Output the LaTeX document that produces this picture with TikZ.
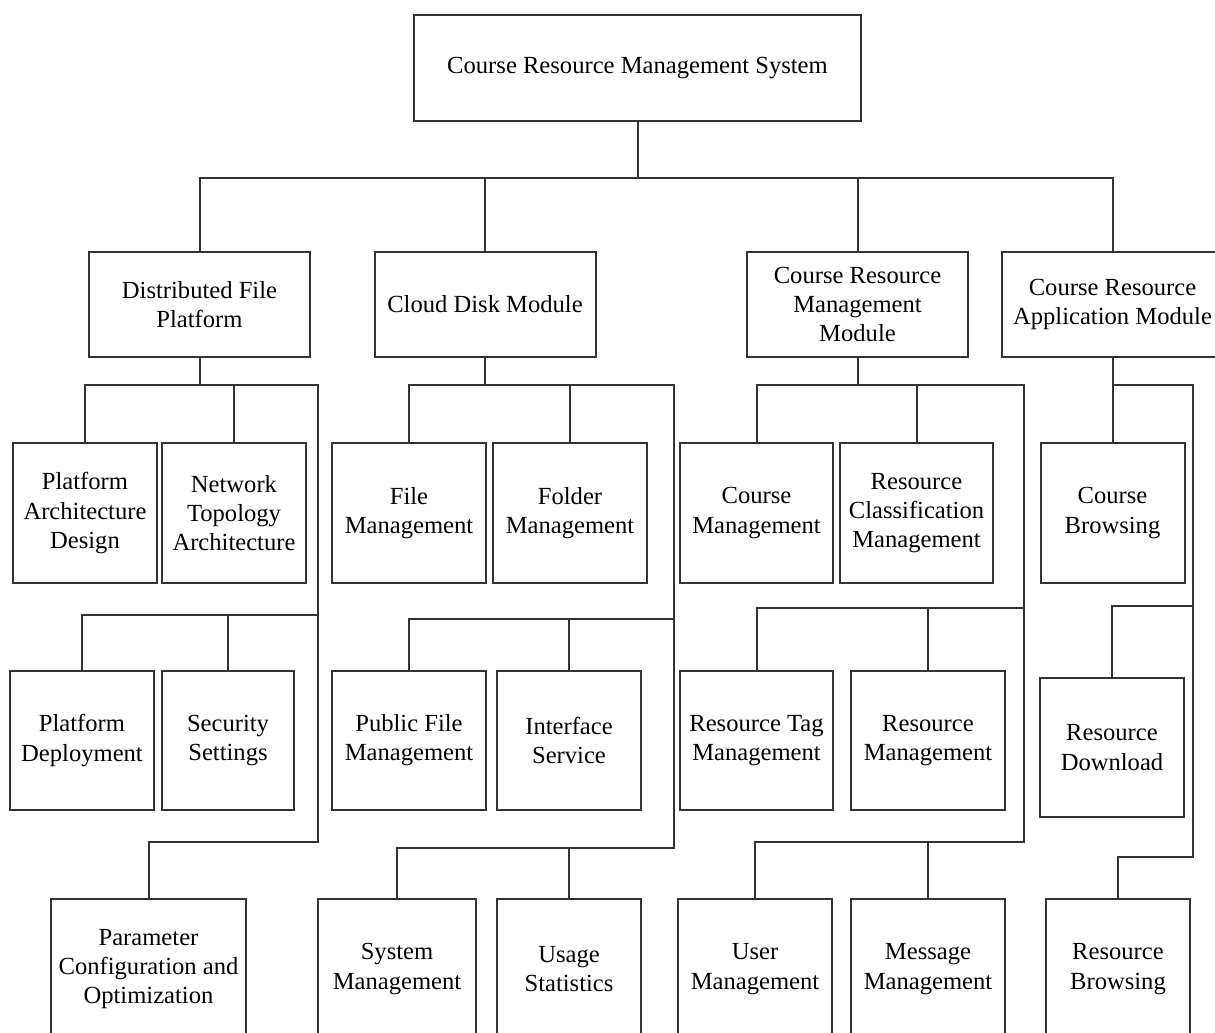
\documentclass[tikz,border=0pt]{standalone}
\usepackage{fontspec}
\setmainfont{Liberation Serif}

\tikzset{
  boxstyle/.style={draw=black!80, line width=1pt, align=center, inner sep=0pt,
    font=\fontsize{12.3}{14.6}\selectfont},
  modbox/.style={boxstyle, minimum width=110.5pt, minimum height=52.5pt},
  leafbox/.style={boxstyle, minimum height=70pt},
  link/.style={draw=black!80, line width=1pt}
}

\begin{document}
\begin{tikzpicture}[x=0.5pt, y=-0.5pt]
    \useasboundingbox (0,0) rectangle (1215,1033);
    \clip (0,0) rectangle (1215,1033);

    % root
    \node[boxstyle, minimum width=223.5pt, minimum height=53pt] (root) at (637.5,68) {Course Resource Management System};

    % modules
    \node[modbox] (dfp) at (199.5,304.5) {Distributed File\\Platform};
    \node[modbox] (cdm) at (485,304.5) {Cloud Disk Module};
    \node[modbox] (crmm) at (857.5,304.5) {Course Resource\\Management\\Module};
    \node[modbox] (cram) at (1112.5,304.5) {Course Resource\\Application Module};

    % second row
    \node[leafbox, minimum width=72pt] (pad) at (85,513) {Platform\\Architecture\\Design};
    \node[leafbox, minimum width=72pt] (nta) at (234,513) {Network\\Topology\\Architecture};
    \node[leafbox, minimum width=77pt] (fm) at (409,513) {File\\Management};
    \node[leafbox, minimum width=77pt] (fom) at (570,513) {Folder\\Management};
    \node[leafbox, minimum width=76.5pt] (cm) at (756.5,513) {Course\\Management};
    \node[leafbox, minimum width=76.5pt] (rcm) at (916.5,513) {Resource\\Classification\\Management};
    \node[leafbox, minimum width=72pt] (cb) at (1112.5,513) {Course\\Browsing};

    % third row
    \node[leafbox, minimum width=72pt, minimum height=69.5pt] (pd) at (82,740.5) {Platform\\Deployment};
    \node[leafbox, minimum width=66pt, minimum height=69.5pt] (ss) at (228,740.5) {Security\\Settings};
    \node[leafbox, minimum width=77pt, minimum height=69.5pt] (pfm) at (409,740.5) {Public File\\Management};
    \node[leafbox, minimum width=72pt, minimum height=69.5pt] (is) at (569,740.5) {Interface\\Service};
    \node[leafbox, minimum width=76.5pt, minimum height=69.5pt] (rtm) at (756.5,740.5) {Resource Tag\\Management};
    \node[leafbox, minimum width=77pt, minimum height=69.5pt] (rm) at (928,740.5) {Resource\\Management};
    \node[leafbox, minimum width=72pt, minimum height=69.5pt] (rd) at (1112,747.5) {Resource\\Download};

    % fourth row
    \node[leafbox, minimum width=97.5pt] (pco) at (148.5,969) {Parameter\\Configuration and\\Optimization};
    \node[leafbox, minimum width=79pt] (sm) at (397,969) {System\\Management};
    \node[leafbox, minimum width=72pt] (us) at (569,969) {Usage\\Statistics};
    \node[leafbox, minimum width=77pt] (um) at (755,969) {User\\Management};
    \node[leafbox, minimum width=77pt] (mm) at (928,969) {Message\\Management};
    \node[leafbox, minimum width=72pt] (rb) at (1118,969) {Resource\\Browsing};

    % bus lines
    \coordinate (bus) at (0,178);
    \coordinate (dfpA) at (318,385);
    \coordinate (dfpB) at (318,615);
    \coordinate (dfpC) at (318,842);
    \coordinate (cdmA) at (674,385);
    \coordinate (cdmB) at (674,619);
    \coordinate (cdmC) at (674,848);
    \coordinate (crmmA) at (1024,385);
    \coordinate (crmmB) at (1024,608);
    \coordinate (crmmC) at (1024,842);
    \coordinate (cramA) at (1193,385);
    \coordinate (cramB) at (1193,606);
    \coordinate (cramC) at (1193,857);

    % root to modules
    \draw[link] (root.south) -- (root.south |- bus);
    \draw[link] (dfp.north) |- (cram.north |- bus) -- (cram.north);
    \draw[link] (cdm.north) -- (cdm.north |- bus);
    \draw[link] (crmm.north) -- (crmm.north |- bus);

    % distributed file platform
    \draw[link] (dfp.south) -- (dfp.south |- dfpA);
    \draw[link] (pad.north) |- (dfpA) -- (dfpC) -| (pco.north);
    \draw[link] (nta.north) -- (nta.north |- dfpA);
    \draw[link] (pd.north) |- (dfpB);
    \draw[link] (ss.north) -- (ss.north |- dfpB);

    % cloud disk
    \draw[link] (cdm.south) -- (cdm.south |- cdmA);
    \draw[link] (fm.north) |- (cdmA) -- (cdmC) -| (sm.north);
    \draw[link] (fom.north) -- (fom.north |- cdmA);
    \draw[link] (pfm.north) |- (cdmB);
    \draw[link] (is.north) -- (is.north |- cdmB);
    \draw[link] (us.north) -- (us.north |- cdmC);

    % course resource management
    \draw[link] (crmm.south) -- (crmm.south |- crmmA);
    \draw[link] (cm.north) |- (crmmA) -- (crmmC) -| (um.north);
    \draw[link] (rcm.north) -- (rcm.north |- crmmA);
    \draw[link] (rtm.north) |- (crmmB);
    \draw[link] (rm.north) -- (rm.north |- crmmB);
    \draw[link] (mm.north) -- (mm.north |- crmmC);

    % course resource application
    \draw[link] (cram.south) -- (cb.north);
    \draw[link] (cram.south |- cramA) -- (cramA) -- (cramC) -| (rb.north);
    \draw[link] (rd.north) |- (cramB);
\end{tikzpicture}
\end{document}
